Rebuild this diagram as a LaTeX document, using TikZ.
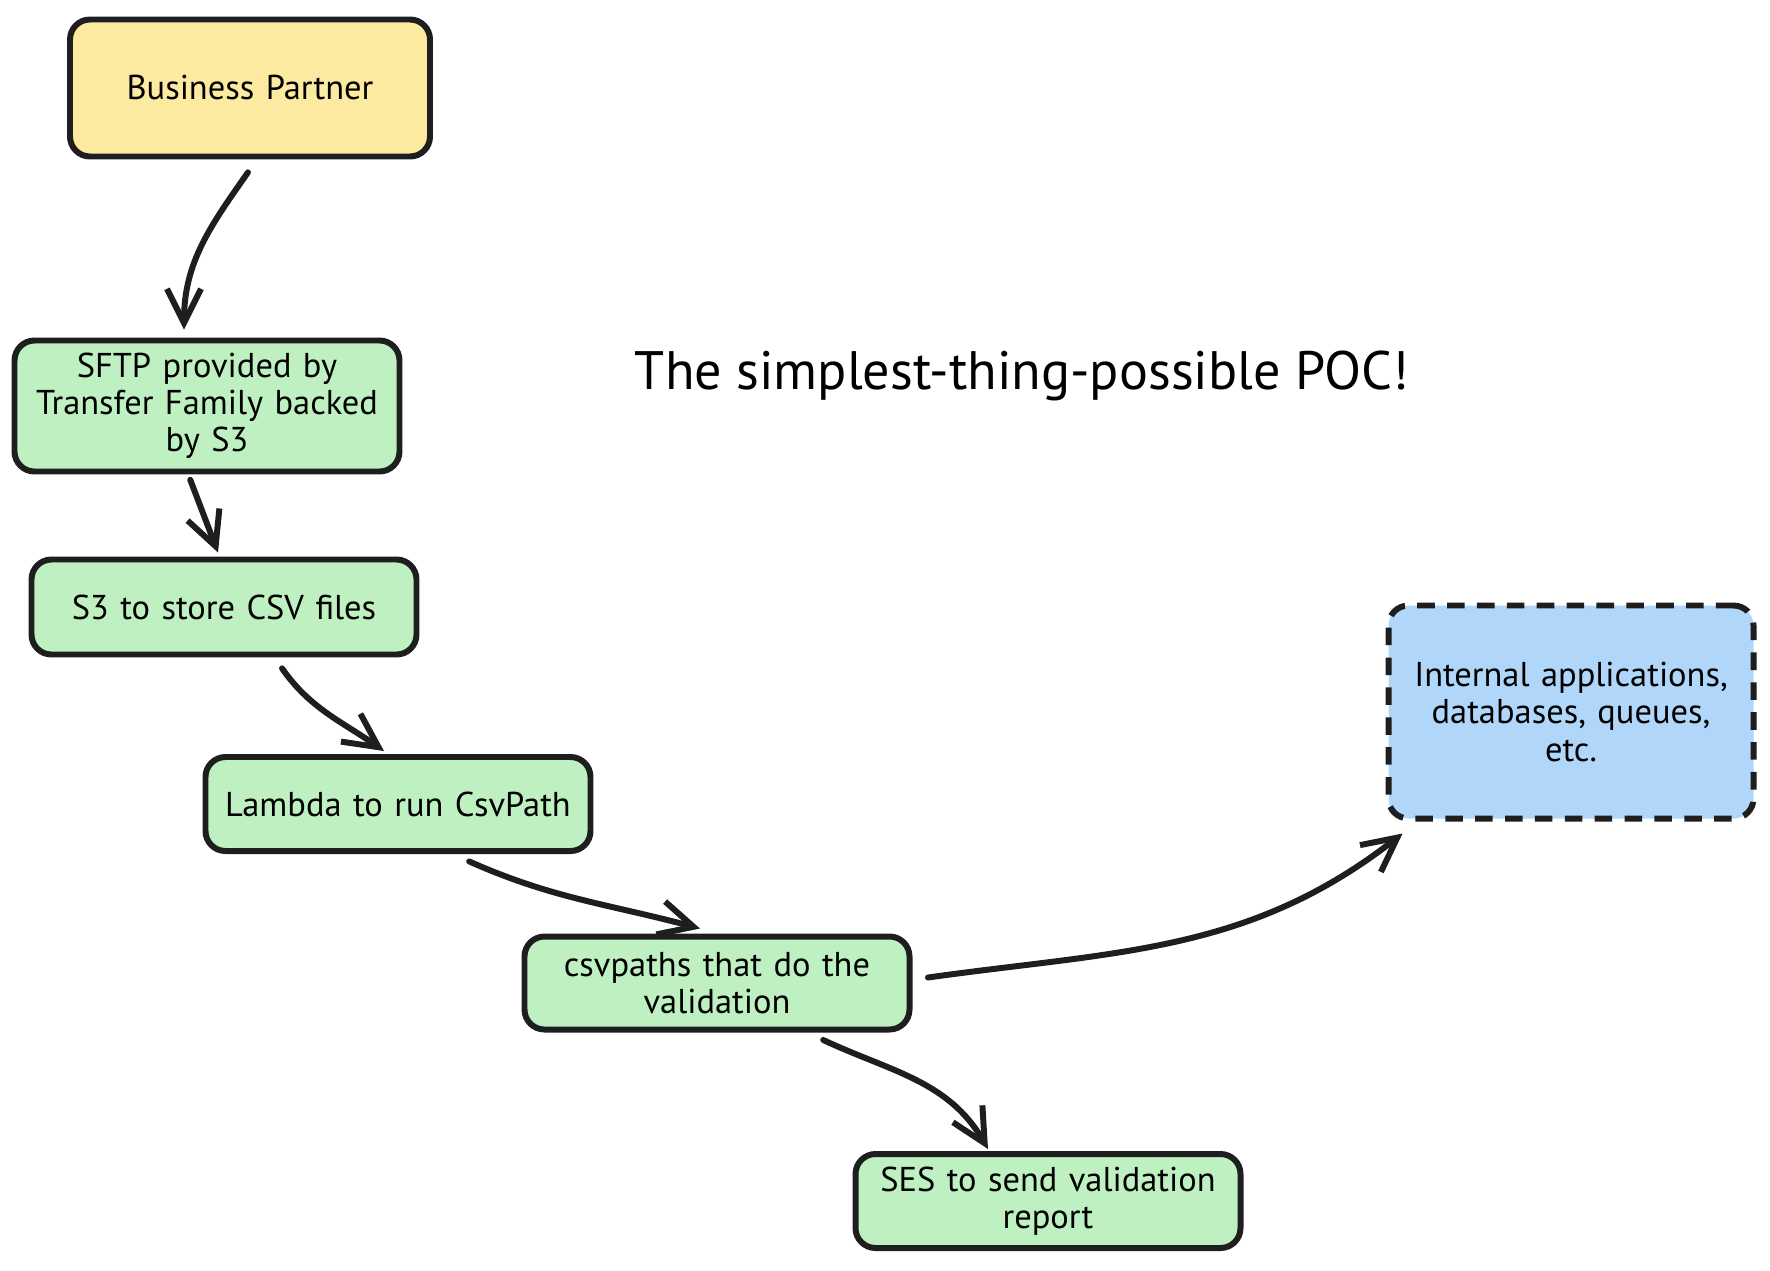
\documentclass[tikz,border=0pt]{standalone}
\usepackage{fontspec}
\setmainfont{PT Sans}
\usetikzlibrary{%
  arrows.meta,%
  positioning,% wg. " of "
  calc
}
\definecolor{partneryellow}{HTML}{FCEAA0}
\definecolor{stepgreen}{HTML}{BEF0C2}
\definecolor{internalblue}{HTML}{B0D6FA}
\definecolor{inkgray}{HTML}{1E1E1E}

\begin{document}
\begin{tikzpicture}
[font=\fontsize{9.8}{10.6}\selectfont, draw=inkgray, line width=1.7pt,
flow/.style={draw=inkgray, line width=1.7pt, line cap=round, -{Straight Barb[length=3.4mm, width=3.4mm]}, shorten <=1pt},
stepbox/.style={rectangle, draw=inkgray, rounded corners=2mm, fill=stepgreen, align=center, inner sep=2pt, minimum width=3.85cm, text width=3.7cm},
partner/.style={stepbox, fill=partneryellow, minimum width=3.60cm, minimum height=1.37cm, text width=3.3cm},
target/.style={stepbox, fill=internalblue, dash pattern=on 5pt off 3.5pt, minimum width=3.65cm, minimum height=2.13cm, text width=3.5cm}]

\useasboundingbox (0,0) rectangle (17.70,-12.70);

\node[partner] (bp) at (2.50,-0.88) {Business Partner};
\node[stepbox, minimum height=1.31cm] (sftp) at (2.07,-4.06) {SFTP provided by\\Transfer Family backed\\by S3};
\node[stepbox, minimum height=0.95cm] (s3) at (2.24,-6.07) {S3 to store CSV files};
\node[stepbox, minimum height=0.94cm] (lambda) at (3.98,-8.04) {Lambda to run CsvPath};
\node[stepbox, minimum height=0.93cm] (csvp) at (7.17,-9.83) {csvpaths that do the\\validation};
\node[stepbox, minimum height=0.94cm] (ses) at (10.48,-12.01) {SES to send validation\\report};
\node[target] (internal) at (15.71,-7.12) {Internal applications,\\databases, queues,\\etc.};

\node[font=\fontsize{15.4}{17}\selectfont] (title) at (10.22,-3.76) {The simplest-thing-possible POC!};

% connectors
\draw[flow] ([yshift=-0.1cm]bp.south) to[out=235, in=90] ([xshift=-0.23cm, yshift=0.08cm]sftp.north);
\draw[flow] ([xshift=-0.18cm, yshift=-0.02cm]sftp.south) -- ([xshift=-0.06cm, yshift=0.04cm]s3.north);
\draw[flow] ([xshift=0.56cm, yshift=-0.08cm]s3.south) to[out=-55, in=145] ([xshift=-0.14cm, yshift=0.03cm]lambda.north);
\draw[flow] ([xshift=0.68cm, yshift=-0.06cm]lambda.south) to[out=-24, in=165] ([xshift=-0.17cm, yshift=0.05cm]csvp.north);
\draw[flow] ([xshift=0.12cm, yshift=0.05cm]csvp.east) to[out=8, in=218] ([xshift=0.17cm, yshift=-0.12cm]internal.south west);
\draw[flow] ([xshift=1.03cm, yshift=-0.06cm]csvp.south) to[out=-25, in=120] ([xshift=-0.60cm, yshift=0.02cm]ses.north);
\end{tikzpicture}
\end{document}
